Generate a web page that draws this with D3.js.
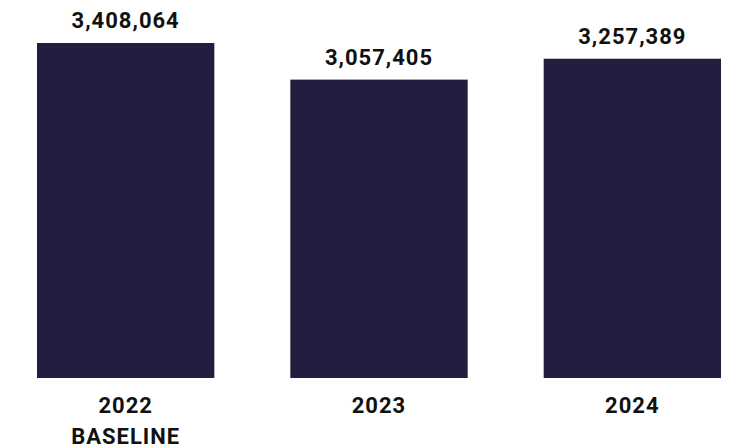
<!DOCTYPE html>
<html>
<head>
<meta charset="utf-8">
<script src="https://cdn.jsdelivr.net/npm/d3@7"></script>
<style>
  html, body { margin: 0; padding: 0; background: #ffffff; }
  svg { display: block; }
  text { font-family: Roboto, "DejaVu Sans", sans-serif; font-weight: 700; fill: #111111; letter-spacing: 1px; }
</style>
</head>
<body>
<svg id="chart" width="729" height="448"></svg>
<script>
// Yearly totals
const years = ["2022", "2023", "2024"];
const subLabels = ["BASELINE", "", ""];
const totals = [3408064, 3057405, 3257389];
const axisFloor = 200000;

const width = 729, height = 448;
const svg = d3.select("#chart");

const x = d3.scaleBand()
  .domain(years)
  .range([37, 721])
  .paddingInner(0.3)
  .paddingOuter(0);

const y = d3.scaleLinear()
  .domain([axisFloor, d3.max(totals)])
  .range([378, 43]);

const data = years.map((yr, i) => ({ year: yr, sub: subLabels[i], value: totals[i] }));
const fmt = d3.format(",");

// Bars
svg.append("g")
  .selectAll("rect")
  .data(data)
  .join("rect")
  .attr("x", d => x(d.year))
  .attr("y", d => y(d.value))
  .attr("width", x.bandwidth())
  .attr("height", d => y(axisFloor) - y(d.value))
  .attr("fill", "#231e3f");

// Value labels above bars
svg.append("g")
  .selectAll("text")
  .data(data)
  .join("text")
  .attr("x", d => x(d.year) + x.bandwidth() / 2)
  .attr("y", d => y(d.value) - 15)
  .attr("text-anchor", "middle")
  .attr("font-size", 22)
  .text(d => fmt(d.value));

// Category labels below bars
const cat = svg.append("g")
  .selectAll("text")
  .data(data)
  .join("text")
  .attr("x", d => x(d.year) + x.bandwidth() / 2)
  .attr("y", y(axisFloor) + 35)
  .attr("text-anchor", "middle")
  .attr("font-size", 22);

cat.append("tspan")
  .attr("x", d => x(d.year) + x.bandwidth() / 2)
  .text(d => d.year);

cat.filter(d => d.sub)
  .append("tspan")
  .attr("x", d => x(d.year) + x.bandwidth() / 2)
  .attr("dy", 31)
  .text(d => d.sub);
</script>
</body>
</html>
